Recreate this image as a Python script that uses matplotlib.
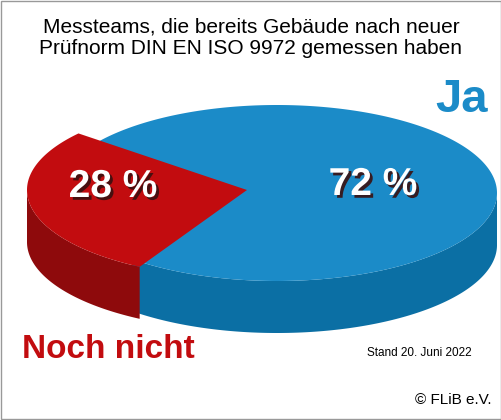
import numpy as np
import matplotlib.pyplot as plt
from matplotlib.patches import Polygon, Rectangle
import matplotlib.patheffects as pe

plt.rcParams["font.family"] = ["Liberation Sans", "DejaVu Sans"]

labels = ["Ja", "Noch nicht"]
values = [72, 28]
colors_top = ["#1b8bc8", "#c20c0f"]
colors_side = ["#0b6fa4", "#8e0a0c"]

cx, cy, rx, ry, depth = 277, 193, 220, 88, 52
red_start = 140.0  # degrees, where the red slice begins (counter-clockwise)


def pt(theta, dx=0, dy=0, down=0):
    t = np.radians(theta)
    return cx + dx + rx * np.cos(t), cy + dy - ry * np.sin(t) + down


fig = plt.figure(figsize=(5.02, 4.2), dpi=100)
ax = fig.add_axes([0, 0, 1, 1])
ax.set_xlim(0, 502)
ax.set_ylim(420, 0)
ax.axis("off")
ax.add_patch(Rectangle((1, 1), 500, 418, fill=False, ec="#999999", lw=1))

span_red = 360 * values[1] / sum(values)
# blue body is drawn whole; the red slice sits on top, pulled out to the left
wedges = [
    (red_start + span_red - 12, red_start + 360, colors_top[0], colors_side[0], (0, 0), True),
    (red_start, red_start + span_red, colors_top[1], colors_side[1], (-30, -3), False),
]

for a0, a1, ctop, cside, (dx, dy), whole in wedges:
    ts = np.linspace(a0, a1, 400)
    front = ts[(ts % 360) >= 180]
    if len(front):
        top = [pt(t, dx, dy) for t in front]
        bot = [pt(t, dx, dy, depth) for t in front[::-1]]
        ax.add_patch(Polygon(top + bot, closed=True, fc=cside, ec="none"))
    if whole:
        poly = [pt(t, dx, dy) for t in np.linspace(0, 360, 400)]
    else:
        poly = [(cx + dx, cy + dy)] + [pt(t, dx, dy) for t in ts]
    ax.add_patch(Polygon(poly, closed=True, fc=ctop, ec="none"))

shadow = [pe.withSimplePatchShadow(offset=(2, -2), shadow_rgbFace="#3a1010", alpha=0.9)]
ax.text(373, 185, f"{values[0]} %", color="white", fontsize=28, fontweight="bold",
        ha="center", va="center", path_effects=shadow)
ax.text(113, 187, f"{values[1]} %", color="white", fontsize=28, fontweight="bold",
        ha="center", va="center", path_effects=shadow)

ax.text(251, 38, "Messteams, die bereits Gebäude nach neuer\nPrüfnorm DIN EN ISO 9972 gemessen haben",
        ha="center", va="center", fontsize=15, linespacing=1.2)
ax.text(488, 100, labels[0], color=colors_top[0], fontsize=34, fontweight="bold",
        ha="right", va="center")
ax.text(22, 350, labels[1], color=colors_top[1], fontsize=24, fontweight="bold",
        ha="left", va="center")
ax.text(472, 353, "Stand 20. Juni 2022", fontsize=8.5, ha="right", va="center")
ax.text(492, 400, "© FLiB e.V.", fontsize=11, ha="right", va="center")

fig.savefig("out.png", dpi=100)
